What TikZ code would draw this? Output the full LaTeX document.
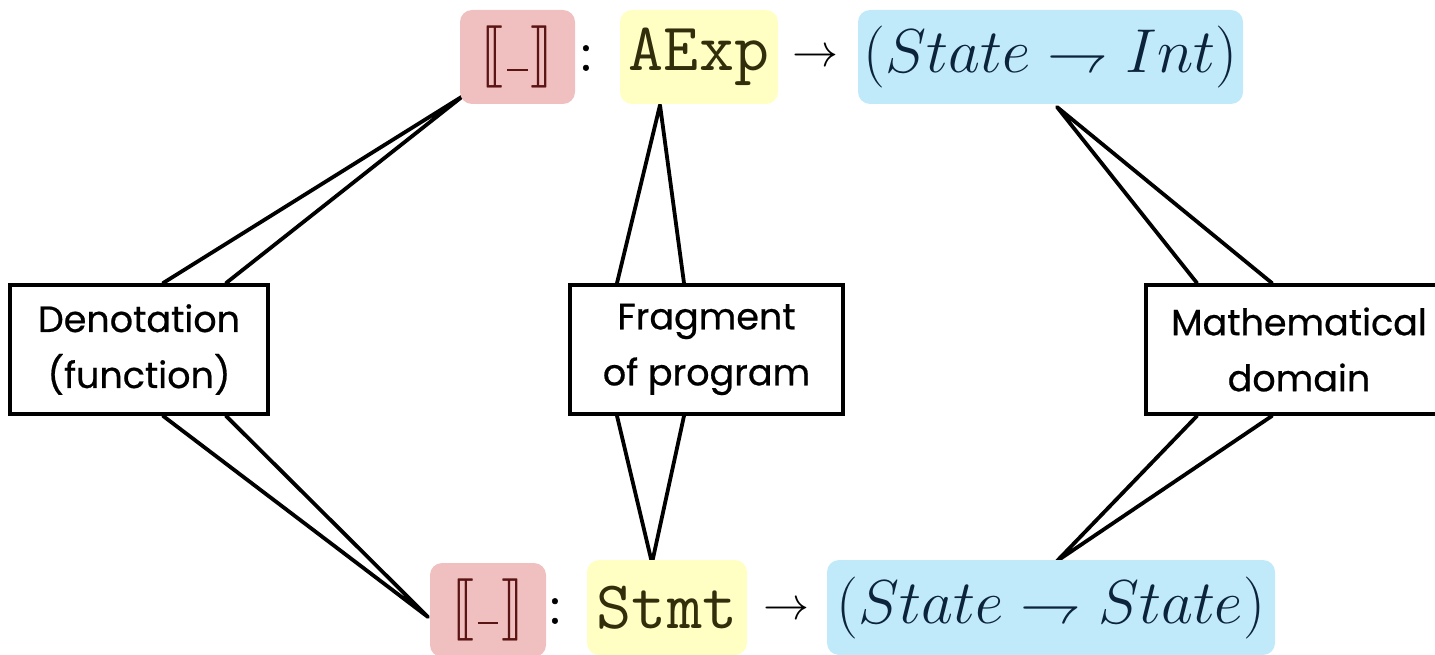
\RequirePackage{fix-cm}
\documentclass[tikz,border=0pt]{standalone}
\usepackage{fontspec}
\setmainfont{Poppins}
\usepackage{stmaryrd}
\usetikzlibrary{backgrounds}
\definecolor{redbox}{RGB}{240,192,192}
\definecolor{yelbox}{RGB}{255,255,196}
\definecolor{bluebox}{RGB}{192,234,250}
\definecolor{redink}{RGB}{90,20,20}
\definecolor{yelink}{RGB}{50,45,10}
\definecolor{blueink}{RGB}{12,35,60}
\newcommand{\lblfnt}{\fontsize{36.5}{56}\selectfont\addfontfeature{FakeBold=0.6}}
\newcommand{\sembr}{\fontsize{24.88}{28}\selectfont\scalebox{2.3}[2.5]{$\llbracket\mkern1mu\mbox{\rule[0.02em]{0.36em}{0.04em}}\mkern1mu\rrbracket$}}
\tikzset{
  hl/.style={rounded corners=12pt, inner sep=0pt, anchor=center},
  lbl/.style={draw, line width=3.8pt, fill=white, align=center, inner sep=0pt,
    font=\lblfnt, minimum height=129pt},
  conn/.style={line width=3.8pt, line join=round, line cap=round},
  sym/.style={inner sep=0pt, anchor=center}
}
\begin{document}
\begin{tikzpicture}[x=1pt,y=-1pt]
\useasboundingbox (0,0) rectangle (1435,655);
% top row
\node[hl, fill=redbox, minimum width=115pt, minimum height=94pt] (r1) at (517.5,57)
  {\color{redink}\sembr};
\node[sym, font=\fontsize{46}{50}\selectfont\addfontfeature{FakeBold=1}] (c1) at (586,58) {:};
\node[hl, fill=yelbox, minimum width=158pt, minimum height=94pt] (y1) at (699,57)
  {\color{yelink}\fontsize{68}{70}\selectfont\ttfamily AExp};
\node[sym, font=\fontsize{46}{50}\selectfont] (a1) at (815,58) {$\to$};
\node[hl, fill=bluebox, minimum width=385pt, minimum height=94pt] (b1) at (1050.5,57)
  {\color{blueink}\fontsize{62}{70}\selectfont$(State\rightharpoondown Int)$};
% bottom row
\node[hl, fill=redbox, minimum width=116pt, minimum height=94pt] (r2) at (488,610)
  {\color{redink}\sembr};
\node[sym, font=\fontsize{46}{50}\selectfont\addfontfeature{FakeBold=1}] (c2) at (555,611) {:};
\node[hl, fill=yelbox, minimum width=160pt, minimum height=95pt] (y2) at (667,607.5)
  {\color{yelink}\fontsize{68}{70}\selectfont\ttfamily Stmt};
\node[sym, font=\fontsize{46}{50}\selectfont] (a2) at (786,611) {$\to$};
\node[hl, fill=bluebox, minimum width=448pt, minimum height=95pt] (b2) at (1051,607.5)
  {\color{blueink}\fontsize{62}{70}\selectfont$(State\rightharpoondown State)$};
% label boxes
\node[lbl, minimum width=258pt] (den) at (139,349.5) {Denotation\\(function)};
\node[lbl, minimum width=273pt] (frag) at (706.5,349.5) {Fragment\\of program};
\node[lbl, minimum width=306pt] (math) at (1299,349.5) {Mathematical\\domain};
% connector points
\coordinate (tl) at (463,96);
\coordinate (bl) at (428,617);
\coordinate (tm) at (660,105);
\coordinate (bm) at (652,563);
\coordinate (tr) at (1057,107);
\coordinate (br) at (1057,561);
\begin{scope}[on background layer]
\draw[conn] ([xshift=24pt]den.north) -- (tl) -- ([xshift=87pt]den.north);
\draw[conn] ([xshift=24pt]den.south) -- (bl) -- ([xshift=87pt]den.south);
\draw[conn] ([xshift=-89.5pt]frag.north) -- (tm) -- ([xshift=-22.5pt]frag.north);
\draw[conn] ([xshift=-89.5pt]frag.south) -- (bm) -- ([xshift=-22.5pt]frag.south);
\draw[conn] ([xshift=-102pt]math.north) -- (tr) -- ([xshift=-27pt]math.north);
\draw[conn] ([xshift=-102pt]math.south) -- (br) -- ([xshift=-27pt]math.south);
\end{scope}
\end{tikzpicture}
\end{document}
